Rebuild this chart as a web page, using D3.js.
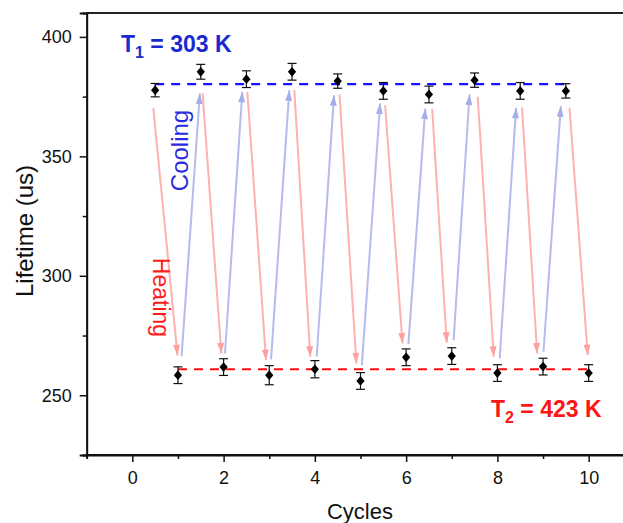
<!DOCTYPE html>
<html><head><meta charset="utf-8">
<script src="https://cdn.jsdelivr.net/npm/d3@7"></script>
<style>body{margin:0;background:#fff;} svg{display:block;font-family:"Liberation Sans",Arial,sans-serif;}</style>
</head><body>
<script>
// ---- data ----
const highCycles = [0.5,1.5,2.5,3.5,4.5,5.5,6.5,7.5,8.5,9.5];
const highValues = [377.7,385.4,382.3,385.4,381.5,377.4,375.9,381.9,377.4,377.4];
const highErrors = [2.8,3.1,3.5,3.5,3.0,3.5,3.5,3.0,3.5,3.0];
const lowCycles = [1,2,3,4,5,6,7,8,9,10];
const lowValues = [258.4,261.8,258.4,260.9,256.0,265.9,266.4,259.3,262.0,259.3];
const lowErrors = [3.5,3.5,4.0,3.6,3.5,3.5,3.5,3.5,3.5,3.5];
const T1Level = 380.2, T2Level = 260.9;
// heating arrows: [x0,y0,x1,y1]
const heatArrows = [
 [0.46,370.2,0.99,266.7],[1.54,376.3,1.95,267.5],[2.52,377.0,2.93,264.7],[3.55,377.7,3.90,266.1],
 [4.54,375.9,4.91,263.3],[5.54,371.4,5.92,271.7],[6.57,370.0,6.89,272.0],[7.57,374.9,7.92,266.1],
 [8.54,370.5,8.87,267.5],[9.58,370.3,9.98,266.8]];
const coolArrows = [
 [1.08,266.4,1.48,376.3],[2.03,267.5,2.41,377.0],[3.04,265.0,3.44,377.7],[4.04,266.1,4.42,375.6],
 [5.03,262.6,5.43,372.1],[6.05,271.4,6.42,370.0],[7.04,273.1,7.39,375.9],[8.05,265.4,8.41,370.3],
 [9.01,268.2,9.39,371.0]];
const xMajor = [0,2,4,6,8,10], xMinor = [-1,1,3,5,7,9,11];
const yMajor = [250,300,350,400], yMinor = [225,275,325,375];

const W=623,H=523;
const svg=d3.select("body").append("svg").attr("width",W).attr("height",H);
const x=d3.scaleLinear().domain([-1,11]).range([86.7,634.3]);
const y=d3.scaleLinear().domain([225,410]).range([455,13]);

const defs=svg.append("defs");
function marker(id,col){
  defs.append("marker").attr("id",id).attr("viewBox","0 0 12 8").attr("refX",12).attr("refY",4)
   .attr("markerWidth",13).attr("markerHeight",7).attr("markerUnits","userSpaceOnUse").attr("orient","auto")
   .append("path").attr("d","M0,0L12,4L0,8Z").attr("fill",col);
}
const redA="#ffb0b0", blueA="#b4bcee";
marker("mr","#ffa0a0"); marker("mb","#a6aeea");

// frame
svg.append("line").attr("x1",x(-1)).attr("x2",W).attr("y1",y(410)).attr("y2",y(410)).attr("stroke","#222").attr("stroke-width",2);
svg.append("line").attr("x1",x(11)).attr("x2",x(11)).attr("y1",y(410)).attr("y2",y(225)).attr("stroke","#222").attr("stroke-width",2);

// axes
const gx=svg.append("g").attr("transform",`translate(0,${y(225)})`);
gx.call(d3.axisBottom(x).tickValues(xMajor).tickSize(7).tickPadding(9).tickFormat(d3.format("d")));
gx.append("g").call(d3.axisBottom(x).tickValues(xMinor).tickSize(4).tickFormat(""));
const gy=svg.append("g").attr("transform",`translate(${x(-1)},0)`);
gy.call(d3.axisLeft(y).tickValues(yMajor).tickSize(7).tickPadding(8));
gy.append("g").call(d3.axisLeft(y).tickValues(yMinor).tickSize(4).tickFormat(""));
svg.selectAll(".domain").attr("stroke","#111").attr("stroke-width",1.8);
svg.selectAll(".tick line").attr("stroke","#111").attr("stroke-width",1.5);
svg.selectAll(".tick text").attr("font-size",18).attr("fill","#111").attr("font-family","Liberation Sans, Arial, sans-serif");
gx.select(".domain").attr("d",`M${x(-1)},0H${W}`);

// arrows
svg.append("g").selectAll("line").data(heatArrows).join("line")
 .attr("x1",d=>x(d[0])).attr("y1",d=>y(d[1])).attr("x2",d=>x(d[2])).attr("y2",d=>y(d[3]))
 .attr("stroke",redA).attr("stroke-width",2).attr("marker-end","url(#mr)");
svg.append("g").selectAll("line").data(coolArrows).join("line")
 .attr("x1",d=>x(d[0])).attr("y1",d=>y(d[1])).attr("x2",d=>x(d[2])).attr("y2",d=>y(d[3]))
 .attr("stroke",blueA).attr("stroke-width",2).attr("marker-end","url(#mb)");

// dashed level lines
svg.append("line").attr("x1",x(0.5)).attr("x2",x(9.5)).attr("y1",y(T1Level)).attr("y2",y(T1Level))
 .attr("stroke","#1414ff").attr("stroke-width",2.2).attr("stroke-dasharray","9,7");
svg.append("line").attr("x1",x(1)).attr("x2",x(10)).attr("y1",y(T2Level)).attr("y2",y(T2Level))
 .attr("stroke","#ff1010").attr("stroke-width",2.2).attr("stroke-dasharray","9,7");

// points with error bars
function pts(cs,vs,es){
  const g=svg.append("g");
  const d=cs.map((c,i)=>({c,v:vs[i],e:es[i]}));
  const eb=g.selectAll("g").data(d).join("g");
  eb.append("line").attr("x1",d=>x(d.c)).attr("x2",d=>x(d.c)).attr("y1",d=>y(d.v-d.e)).attr("y2",d=>y(d.v+d.e)).attr("stroke","#111").attr("stroke-width",1.2);
  eb.append("line").attr("x1",d=>x(d.c)-4.5).attr("x2",d=>x(d.c)+4.5).attr("y1",d=>y(d.v-d.e)).attr("y2",d=>y(d.v-d.e)).attr("stroke","#111").attr("stroke-width",1.2);
  eb.append("line").attr("x1",d=>x(d.c)-4.5).attr("x2",d=>x(d.c)+4.5).attr("y1",d=>y(d.v+d.e)).attr("y2",d=>y(d.v+d.e)).attr("stroke","#111").attr("stroke-width",1.2);
  eb.append("path").attr("d",d3.symbol(d3.symbolDiamond2,60)())
   .attr("transform",d=>`translate(${x(d.c)},${y(d.v)}) scale(0.85,1)`).attr("fill","#000");
}
pts(highCycles,highValues,highErrors);
pts(lowCycles,lowValues,lowErrors);

// texts
const t1=svg.append("text").attr("x",121).attr("y",52).attr("fill","#1a2ad0").attr("font-weight","bold").attr("font-size",23);
t1.append("tspan").text("T");
t1.append("tspan").text("1").attr("font-size",16).attr("dy",6);
t1.append("tspan").text(" = 303 K").attr("dy",-6);
const t2=svg.append("text").attr("x",491).attr("y",417).attr("fill","#ff1414").attr("font-weight","bold").attr("font-size",23);
t2.append("tspan").text("T");
t2.append("tspan").text("2").attr("font-size",16).attr("dy",6);
t2.append("tspan").text(" = 423 K").attr("dy",-6);

svg.append("text").attr("transform","translate(188,150.5) rotate(-90)").attr("text-anchor","middle")
 .attr("fill","#2a2ae0").attr("font-size",24).text("Cooling");
svg.append("text").attr("transform","translate(153,297.5) rotate(90)").attr("text-anchor","middle")
 .attr("fill","#ff1a1a").attr("font-size",23).text("Heating");

svg.append("text").attr("transform","translate(33,231) rotate(-90)").attr("text-anchor","middle")
 .attr("fill","#111").attr("font-size",24).text("Lifetime (us)");
svg.append("text").attr("x",360).attr("y",519).attr("text-anchor","middle")
 .attr("fill","#111").attr("font-size",22).text("Cycles");
</script>
</body></html>
